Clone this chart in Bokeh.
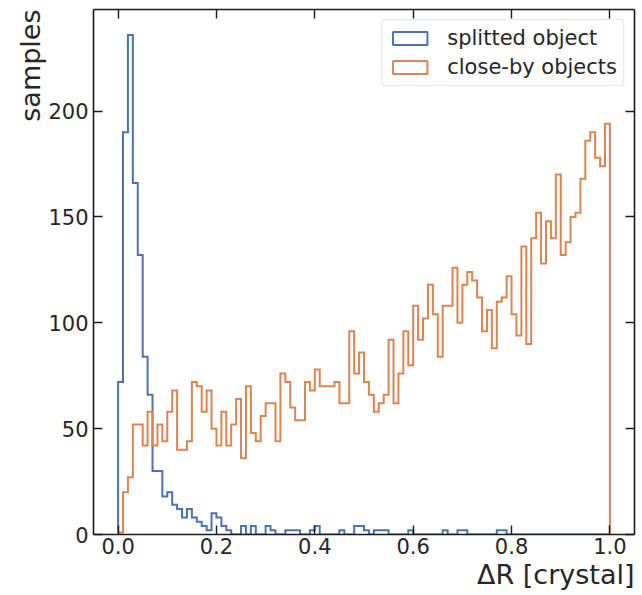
import numpy as np
from bokeh.plotting import figure
from bokeh.models import (Range1d, LinearAxis, FixedTicker, Legend, LegendItem,
                          PrintfTickFormatter, ColumnDataSource, Title)
from bokeh.embed import file_html
from bokeh.resources import INLINE

# ---- data -----------------------------------------------------------------
bin_edges = np.linspace(0.0, 1.0, 101)

splitted_counts = [72, 190, 236, 166, 132, 84, 66, 30, 30, 18,
                   20, 14, 12, 8, 12, 8, 6, 4, 2, 10,
                   8, 4, 2, 0, 0, 4, 0, 4, 0, 0,
                   4, 2, 0, 0, 2, 2, 2, 0, 0, 2,
                   4, 0, 0, 0, 0, 2, 0, 0, 4, 4,
                   2, 0, 2, 2, 2, 0, 0, 0, 0, 2,
                   0, 0, 0, 0, 0, 0, 2, 0, 0, 2,
                   2, 0, 0, 0, 0, 0, 0, 2, 2, 0,
                   0, 0, 0, 0, 0, 0, 0, 0, 0, 0,
                   0, 0, 0, 0, 0, 0, 0, 0, 0, 0]

closeby_counts = [1, 20, 27, 52, 52, 42, 58, 42, 52, 44,
                  58, 68, 40, 40, 44, 72, 70, 58, 68, 50,
                  42, 58, 42, 52, 64, 36, 70, 48, 44, 56,
                  62, 62, 44, 76, 72, 60, 54, 54, 72, 68,
                  78, 70, 70, 70, 72, 62, 62, 96, 76, 86,
                  72, 66, 58, 62, 66, 92, 62, 76, 96, 80,
                  108, 92, 102, 118, 104, 84, 108, 108, 126, 100,
                  118, 124, 120, 112, 96, 106, 88, 110, 112, 122,
                  104, 94, 136, 90, 140, 152, 128, 148, 140, 170,
                  132, 138, 150, 152, 168, 186, 190, 178, 174, 194]

series_labels = ["splitted object", "close-by objects"]
series_colors = ["#4c72b0", "#dd8452"]

x_ticks = [0.0, 0.2, 0.4, 0.6, 0.8, 1.0]
y_ticks = [0, 50, 100, 150, 200]
x_label = "ΔR [crystal]"
y_label = "samples"

X_MIN, X_MAX = -0.05, 1.05
Y_MIN, Y_MAX = 0, 248


def step_outline(edges, counts):
    xs = np.repeat(edges, 2)
    ys = np.concatenate([[0], np.repeat(np.asarray(counts, dtype=float), 2), [0]])
    return xs, ys


FONT = "DejaVu Sans"
TXT = "#262626"
FRAME_W, FRAME_H = 541, 525

p = figure(frame_width=FRAME_W, frame_height=FRAME_H,
           x_range=Range1d(X_MIN, X_MAX), y_range=Range1d(Y_MIN, Y_MAX),
           output_backend="svg", toolbar_location=None,
           min_border_left=93, min_border_right=6, min_border_top=9,
           min_border_bottom=58, x_axis_location=None, y_axis_location=None)
p.grid.visible = False
p.outline_line_color = None
p.background_fill_color = "white"
p.border_fill_color = "white"


def style_axis(ax, ticks, show_labels, standoff=3):
    ax.ticker = FixedTicker(ticks=ticks)
    ax.axis_line_color = "#1a1a1a"
    ax.axis_line_width = 1.6
    ax.major_tick_line_color = "#1a1a1a"
    ax.major_tick_line_width = 1.4
    ax.major_tick_in = 9
    ax.major_tick_out = 0
    ax.minor_tick_in = 0
    ax.minor_tick_out = 0
    ax.major_label_text_font = FONT
    ax.major_label_text_color = TXT
    if show_labels:
        ax.major_label_text_font_size = "21px"
        ax.major_label_standoff = standoff
    else:
        ax.major_label_text_font_size = "0px"
        ax.major_label_standoff = 0
        ax.major_label_overrides = {t: "" for t in ticks}


xb = LinearAxis()
style_axis(xb, x_ticks, True, 3)
xb.formatter = PrintfTickFormatter(format="%.1f")
p.add_layout(xb, "below")

yl = LinearAxis()
style_axis(yl, y_ticks, True, 5)
p.add_layout(yl, "left")

xt = LinearAxis()
style_axis(xt, x_ticks, False)
p.add_layout(xt, "above")

yr = LinearAxis()
style_axis(yr, y_ticks, False)
p.add_layout(yr, "right")

# axis titles aligned to the far ends (matplotlib loc='right' / loc='top')
xtitle = Title(text=x_label, align="right", text_font=FONT, text_font_size="27px",
               text_font_style="normal", text_color=TXT, standoff=0, offset=0)
p.add_layout(xtitle, "below")
ytitle = Title(text=y_label, align="right", text_font=FONT, text_font_size="27px",
               text_font_style="normal", text_color=TXT, standoff=0, offset=0)
p.add_layout(ytitle, "left")

items = []
for counts, label, color in zip([splitted_counts, closeby_counts], series_labels, series_colors):
    xs, ys = step_outline(bin_edges, counts)
    p.line(xs, ys, line_color=color, line_width=2, line_join="miter")
    # muted bar renderer: invisible on the plot, gives the legend a rectangular patch
    src = ColumnDataSource(dict(left=bin_edges[:-1], right=bin_edges[1:],
                                top=np.asarray(counts, dtype=float),
                                bottom=np.zeros(len(counts))))
    proxy = p.quad(left="left", right="right", top="top", bottom="bottom", source=src,
                   fill_color=None, line_color=color, line_width=2,
                   muted_alpha=0.0)
    proxy.muted = True
    items.append(LegendItem(label=label, renderers=[proxy]))

legend = Legend(items=items, location="top_right")
legend.label_text_font = FONT
legend.label_text_font_size = "21px"
legend.label_text_color = TXT
legend.glyph_width = 43
legend.glyph_height = 16
legend.label_height = 22
legend.label_standoff = 16
legend.spacing = 5
legend.padding = 6
legend.margin = 10
legend.border_line_color = "#cccccc"
legend.border_line_width = 1
legend.background_fill_color = "white"
legend.background_fill_alpha = 0.8
legend.click_policy = "none"
if "border_radius" in Legend.properties():
    legend.border_radius = 4
p.add_layout(legend)

open("out.html", "w").write(file_html(p, INLINE))
